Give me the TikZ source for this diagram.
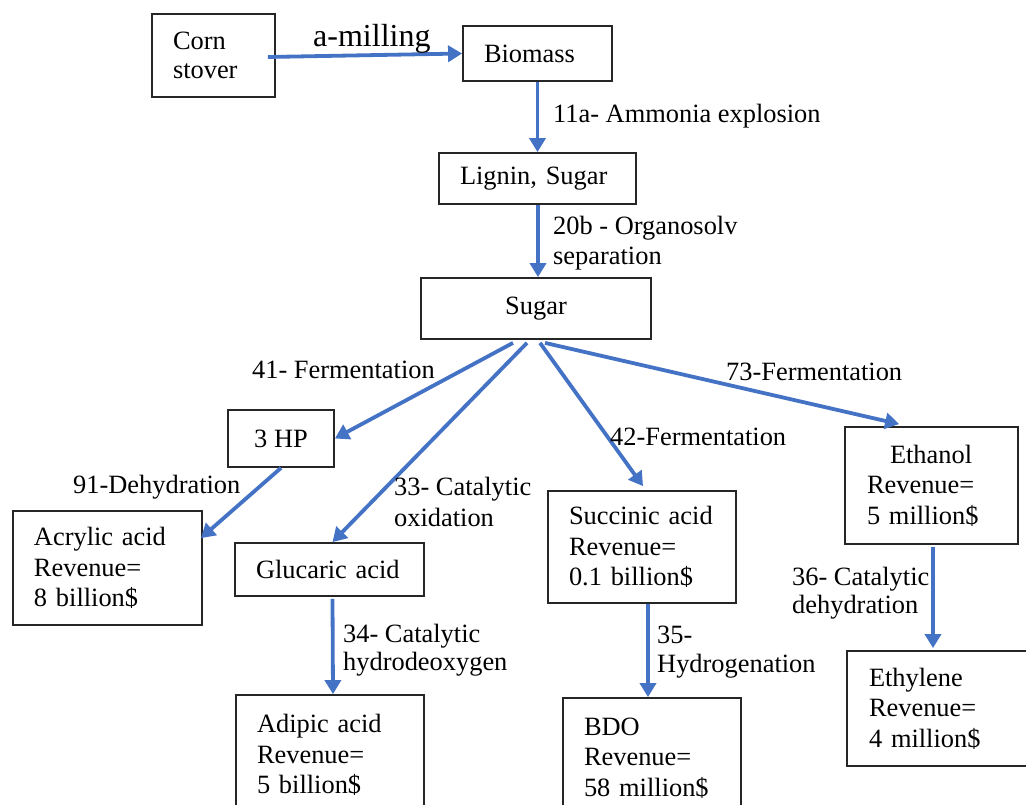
\documentclass[tikz,border=0pt]{standalone}
\usepackage{fontspec}
\setmainfont{Liberation Serif}
\usetikzlibrary{arrows.meta,calc}
\definecolor{flowblue}{HTML}{4472C4}
\definecolor{boxgray}{HTML}{262626}
\newcommand\labfont{\fontsize{26.4}{30.5}\selectfont}
\newcommand\bigfont{\fontsize{32}{36}\selectfont}
\begin{document}
\begin{tikzpicture}[x=1pt,y=-1pt,
  box/.style={draw=boxgray,line width=1.8pt,inner ysep=0pt,font=\labfont},
  lbox/.style={box,align=left,inner xsep=21pt},
  flow/.style={draw=flowblue,line width=3.8pt,-{Triangle[length=14pt,width=16pt]}},
  lab/.style={inner sep=0pt,anchor=base west,font=\labfont}]
\clip (0,0) rectangle (1026,805);
\fill[white] (0,0) rectangle (1026,805);

% boxes
\node[lbox,text width=81pt,minimum height=83pt] (corn) at (213.5,55.5) {\raisebox{-2pt}{Corn}\\stover};
\node[lbox,text width=107pt,minimum height=55pt] (biomass) at (537.5,53.5) {Biomass};
\node[lbox,text width=155pt,minimum height=51pt] (lignin) at (537.5,178.5) {Lignin, Sugar};
\node[box,minimum width=230pt,minimum height=61pt] (sugar) at (536,308.5) {Sugar};
\node[box,minimum width=106pt,minimum height=57pt] (hp) at (281,438.5) {3 HP};
\node[lbox,text width=147pt,minimum height=114pt] (acrylic) at (107.5,568) {Acrylic acid\\Revenue=\\8 billion\$};
\node[lbox,text width=147pt,minimum height=53pt] (glucaric) at (329.5,569.5) {Glucaric acid};
\node[lbox,text width=146pt,minimum height=112pt] (succinic) at (642,547) {Succinic acid\\Revenue=\\0.1 billion\$};
\node[lbox,inner xsep=22pt,text width=129pt,minimum height=117pt] (ethanol) at (931.5,485.5) {\hspace*{23pt}Ethanol\\Revenue=\\5 million\$};
\node[lbox,inner xsep=22pt,text width=139pt,minimum height=115pt] (ethylene) at (938.5,708.5) {Ethylene\\Revenue=\\4 million\$};
\node[lbox,text width=146pt,minimum height=120pt] (adipic) at (330,755) {Adipic acid\\Revenue=\\5 billion\$};
\node[lbox,text width=136pt,minimum height=120pt] (bdo) at (652,758) {BDO\\Revenue=\\58 million\$};

% connectors
\draw[flow] ($(corn.east)+(-8,1.5)$) -- (biomass.west);
\draw[flow] (biomass.south) -- (lignin.north);
\draw[flow] ($(lignin.south)+(0.5,0)$) -- ($(sugar.north)+(2,0)$);
\draw[flow] ($(sugar.south)+(-23,3)$) -- (hp.east);
\draw[flow] ($(sugar.south)+(-9,3)$) -- ($(glucaric.north)+(3,0)$);
\draw[flow] ($(sugar.south)+(4,3)$) -- ($(succinic.north)+(1,-4)$);
\draw[flow] ($(sugar.south)+(9,3)$) -- ($(ethanol.north west)+(55,-2)$);
\draw[flow] (hp.south) -- ($(acrylic.north east)+(-2,28)$);
\draw[flow] ($(glucaric.south)+(3,2)$) -- ($(adipic.north)+(3,0)$);
\draw[flow] ($(succinic.south)+(6,0)$) -- ($(bdo.north)+(-4,0)$);
\draw[flow] ($(ethanol.south)+(1.5,2)$) -- ($(ethylene.north)+(-5.5,-2)$);

% labels
\node[lab,font=\bigfont] (lmill) at (313,47) {a-milling};
\node[lab] (l11a) at (553,123) {11a- Ammonia explosion};
\node[lab] (l20b) at (553,235) {20b - Organosolv};
\node[lab] (l20bb) at (553,265) {separation};
\node[lab] (l41) at (252,378) {41- Fermentation};
\node[lab] (l73) at (726,380) {73-Fermentation};
\node[lab] (l91) at (73,493) {91-Dehydration};
\node[lab] (l33) at (394,495) {33- Catalytic};
\node[lab] (l33b) at (394,526) {oxidation};
\node[lab] (l42) at (610,445) {42-Fermentation};
\node[lab] (l35) at (657,643) {35-};
\node[lab] (l35b) at (657,672) {Hydrogenation};
\node[lab] (l34) at (343,642) {34- Catalytic};
\node[lab] (l34b) at (343,670) {hydrodeoxygen};
\node[lab] (l36) at (792,585) {36- Catalytic};
\node[lab] (l36b) at (792,613) {dehydration};
\end{tikzpicture}
\end{document}
